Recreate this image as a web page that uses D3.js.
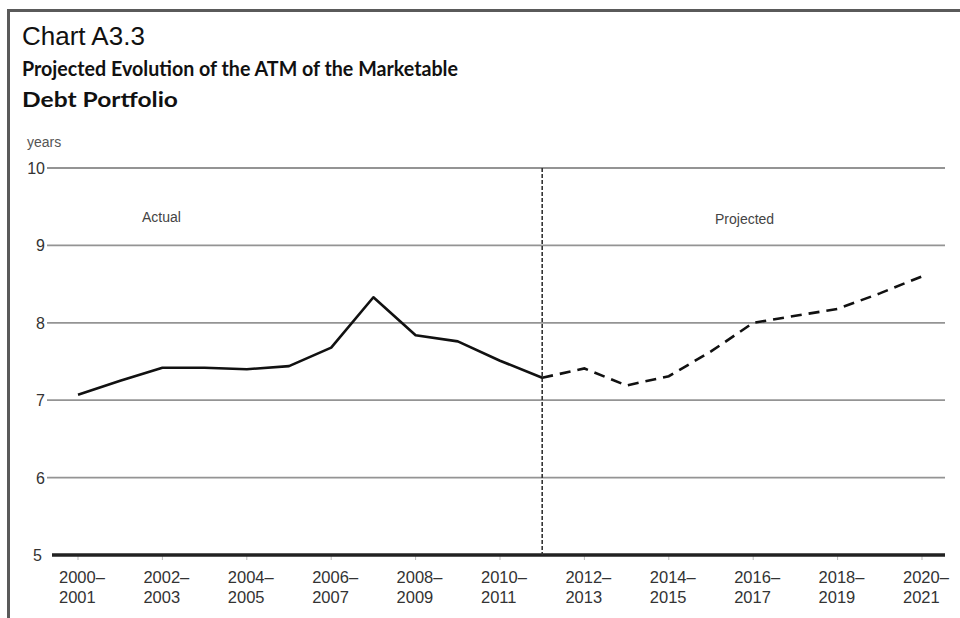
<!DOCTYPE html>
<html>
<head>
<meta charset="utf-8">
<script src="https://cdn.jsdelivr.net/npm/d3@7"></script>
<style>
  html, body { margin: 0; padding: 0; background: #fff; }
  svg { display: block; }
</style>
</head>
<body>
<svg id="chart" width="960" height="618"></svg>
<script>
// ---- data ----
const categories = ["2000–2001","2001–2002","2002–2003","2003–2004","2004–2005","2005–2006",
  "2006–2007","2007–2008","2008–2009","2009–2010","2010–2011","2011–2012","2012–2013",
  "2013–2014","2014–2015","2015–2016","2016–2017","2017–2018","2018–2019","2019–2020","2020–2021"];
const actualValues = [7.07, 7.25, 7.42, 7.42, 7.40, 7.44, 7.68, 8.33, 7.84, 7.76, 7.51, 7.29];
const projectedValues = [7.29, 7.41, 7.19, 7.31, 7.63, 8.00, 8.09, 8.18, 8.38, 8.60];
const projectedStart = 11; // index of first projected category
const yTicks = [5, 6, 7, 8, 9, 10];
const xTickCategories = categories.filter((d, i) => i % 2 === 0);

const svg = d3.select("#chart");

// frame
svg.append("path")
  .attr("d", "M8.5,618 L8.5,10.5 L960,10.5")
  .attr("fill", "none").attr("stroke", "#5a5a5a").attr("stroke-width", 3);

// titles
svg.append("text").attr("x", 22).attr("y", 45)
  .attr("font-family", "Liberation Sans, Arial, sans-serif").attr("font-size", 26)
  .attr("fill", "#111").text("Chart A3.3");
const t1 = svg.append("text").attr("x", 22).attr("y", 76)
  .attr("font-family", "Lato, 'Open Sans', sans-serif").attr("font-weight", "bold")
  .attr("font-size", 21.5).attr("fill", "#111")
  .text("Projected Evolution of the ATM of the Marketable");
const t2 = svg.append("text").attr("x", 22).attr("y", 107)
  .attr("font-family", "Lato, 'Open Sans', sans-serif").attr("font-weight", "bold")
  .attr("font-size", 21.5).attr("fill", "#111")
  .text("Debt Portfolio");
[[t1, 436], [t2, 156]].forEach(([t, w]) => {
  const len = t.node().getComputedTextLength();
  if (Math.abs(len - w) > 2) t.attr("textLength", w).attr("lengthAdjust", "spacingAndGlyphs");
});

svg.append("text").attr("x", 27).attr("y", 147)
  .attr("font-family", "Liberation Sans, Arial, sans-serif").attr("font-size", 14)
  .attr("fill", "#555").text("years");

// scales
const x = d3.scaleLinear().domain([0, categories.length - 1]).range([78, 922]);
const y = d3.scaleLinear().domain([5, 10]).range([555, 168]);

// gridlines + y labels
const yAxis = svg.append("g");
yAxis.selectAll("line.grid").data(yTicks.filter(d => d > 5)).join("line")
  .attr("class", "grid")
  .attr("x1", 47).attr("x2", 945)
  .attr("y1", d => y(d)).attr("y2", d => y(d))
  .attr("stroke", "#949494").attr("stroke-width", 1.8);
yAxis.selectAll("text").data(yTicks).join("text")
  .attr("x", d => d === 5 ? 42 : 45).attr("y", d => y(d) + 6)
  .attr("text-anchor", "end")
  .attr("font-family", "Liberation Sans, Arial, sans-serif").attr("font-size", 16)
  .attr("fill", "#333").text(d => d);

// x tick marks (faint)
const xAxis = svg.append("g");
xAxis.selectAll("line").data(xTickCategories).join("line")
  .attr("x1", d => x(categories.indexOf(d))).attr("x2", d => x(categories.indexOf(d)))
  .attr("y1", y(5)).attr("y2", y(5) + 5)
  .attr("stroke", "#bbb").attr("stroke-width", 1);

// baseline
svg.append("line").attr("x1", 52).attr("x2", 945)
  .attr("y1", y(5)).attr("y2", y(5))
  .attr("stroke", "#222").attr("stroke-width", 3.5);

// x labels
const xl = xAxis.selectAll("text").data(xTickCategories).join("text")
  .attr("font-family", "Liberation Sans, Arial, sans-serif").attr("font-size", 16.5)
  .attr("fill", "#333");
xl.each(function(d) {
  const parts = d.split("–");
  const cx = x(categories.indexOf(d));
  const t = d3.select(this);
  t.append("tspan").attr("x", cx - 19).attr("y", 583).text(parts[0] + "–");
  t.append("tspan").attr("x", cx - 19).attr("y", 603).text(parts[1]);
});

// divider
svg.append("line")
  .attr("x1", x(projectedStart)).attr("x2", x(projectedStart))
  .attr("y1", y(10)).attr("y2", y(5))
  .attr("stroke", "#333").attr("stroke-width", 1.6)
  .attr("stroke-dasharray", "4,2");

// region labels
svg.append("text").attr("x", 142).attr("y", 222)
  .attr("font-family", "Liberation Sans, Arial, sans-serif").attr("font-size", 14)
  .attr("fill", "#444").text("Actual");
svg.append("text").attr("x", 715).attr("y", 224)
  .attr("font-family", "Liberation Sans, Arial, sans-serif").attr("font-size", 14)
  .attr("fill", "#444").text("Projected");

// lines
const line = d3.line().x(d => x(d.i)).y(d => y(d.v));
svg.append("path")
  .datum(actualValues.map((v, i) => ({ i, v })))
  .attr("d", line).attr("fill", "none")
  .attr("stroke", "#111").attr("stroke-width", 2.6).attr("stroke-linejoin", "round");
svg.append("path")
  .datum(projectedValues.map((v, k) => ({ i: projectedStart + k, v })))
  .attr("d", line).attr("fill", "none")
  .attr("stroke", "#111").attr("stroke-width", 2.6)
  .attr("stroke-dasharray", "11,7");
</script>
</body>
</html>
